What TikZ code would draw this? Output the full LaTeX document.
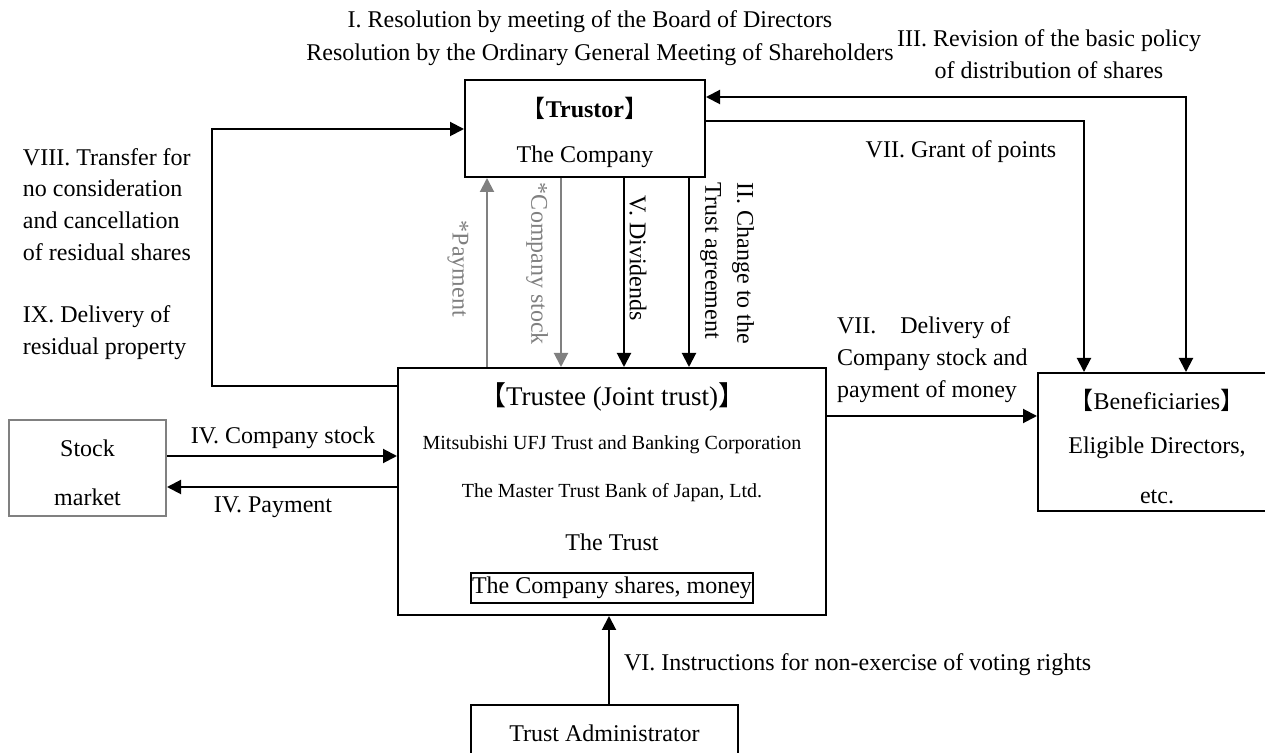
\documentclass[tikz,border=0pt]{standalone}
\usepackage{fontspec}
\setmainfont{Liberation Serif}
\newfontfamily\cjk{Noto Sans CJK JP}
\usetikzlibrary{arrows.meta}
\newcommand{\lbr}{{\cjk 【}}
\newcommand{\rbr}{{\cjk 】}}

\begin{document}
\begin{tikzpicture}[x=0.5pt,y=-0.5pt,>={Triangle[length=7pt,width=7pt]},line width=1pt,
  every node/.style={font=\fontsize{12}{16}\selectfont,inner sep=0pt},
  box/.style={draw,line width=1pt},
  vlbl/.style={rotate=-90,anchor=west}]
\useasboundingbox (0,0) rectangle (1265,753);
\clip (0,0) rectangle (1265,753);
% boxes
\node [box,minimum width=120pt,minimum height=48.5pt] (trustor) at (585,128.5) {};
\node [box,minimum width=214pt,minimum height=123.5pt] (trustee) at (612,491.5) {};
\node [box,draw=gray,minimum width=78.5pt,minimum height=48pt] (market) at (87.5,468) {};
\node [box,minimum width=119pt,minimum height=69pt] (bene) at (1157,442) {};
\node [box,minimum width=133.5pt,minimum height=28pt] (admin) at (604.5,733) {Trust Administrator};
% texts in boxes
\node (trustorT) at (585,108) {\lbr\textbf{Trustor}\rbr};
\node (trustorC) at (585,157) {The Company};
\node (trusteeT) at (612,397) {\fontsize{13.5}{16}\selectfont\lbr Trustee (Joint trust)\rbr};
\node (mufg) at (612,445) {\fontsize{10}{12}\selectfont Mitsubishi UFJ Trust and Banking Corporation};
\node (mtbj) at (612,493) {\fontsize{10}{12}\selectfont The Master Trust Bank of Japan, Ltd.};
\node (trust) at (612,542) {The Trust};
\node [draw,line width=0.8pt,minimum width=141pt,minimum height=15pt] (assets) at (612,588) {The Company shares, money};
\node (mkt1) at (87.5,448) {Stock};
\node (mkt2) at (87.5,497) {market};
\node (bene1) at (1157,400) {\lbr Beneficiaries\rbr};
\node (bene2) at (1157,448) {Eligible Directors,};
\node (bene3) at (1157,497) {etc.};
% labels
\node (res1) at (590,22) {I. Resolution by meeting of the Board of Directors};
\node (res2) at (600,55) {Resolution by the Ordinary General Meeting of Shareholders};
\node [align=center] (rev) at (1049,54) {III. Revision of the basic policy\\of distribution of shares};
\node (grant) at (961,152) {VII. Grant of points};
\node [anchor=west,align=left] (deliv) at (836,360) {VII.\hspace{12pt}Delivery of\\Company stock and\\payment of money};
\node [anchor=west,align=left,font=\fontsize{12}{15.9}\selectfont] (transfer) at (22,204.5) {VIII. Transfer for\\no consideration\\and cancellation\\of residual shares};
\node [anchor=west,align=left,font=\fontsize{12}{15.9}\selectfont] (resid) at (22,332.5) {IX. Delivery of\\residual property};
\node (buy) at (283,438) {IV. Company stock};
\node (pay) at (273,507) {IV. Payment};
\node [anchor=west] (vote) at (623,665) {VI. Instructions for non-exercise of voting rights};
\node [vlbl,text=gray] (payv) at (458,220) {*Payment};
\node [vlbl,text=gray] (stockv) at (537,182) {*Company stock};
\node [vlbl] (divv) at (638,195) {V. Dividends};
\node [vlbl,align=left] (chg) at (727,182) {II. Change to the\\Trust agreement};
% connectors
\coordinate (xpay) at (487,0);
\coordinate (xstock) at (561,0);
\coordinate (xdiv) at (624,0);
\coordinate (xchg) at (689,0);
\coordinate (xvote) at (609,0);
\coordinate (loopb) at (212,386);
\coordinate (loopt) at (212,129);
\coordinate (revc) at (1186,97);
\coordinate (grantc) at (1084,121);
\coordinate (delc) at (0,416);
\coordinate (buyc) at (0,456);
\coordinate (payc) at (0,487);
\draw [->,gray] (trustee.north -| xpay) -- (trustor.south -| xpay);
\draw [->,gray] (trustor.south -| xstock) -- (trustee.north -| xstock);
\draw [->] (trustor.south -| xdiv) -- (trustee.north -| xdiv);
\draw [->] (trustor.south -| xchg) -- (trustee.north -| xchg);
\draw [->] (trustee.west |- loopb) -- (loopb) -- (loopt) -- (trustor.west |- loopt);
\draw [<->] (trustor.east |- revc) -| (bene.north -| revc);
\draw [->] (trustor.east |- grantc) -| (bene.north -| grantc);
\draw [->] (trustee.east |- delc) -- (bene.west |- delc);
\draw [->] (market.east |- buyc) -- (trustee.west |- buyc);
\draw [->] (trustee.west |- payc) -- (market.east |- payc);
\draw [->] (admin.north -| xvote) -- (trustee.south -| xvote);
\end{tikzpicture}
\end{document}
